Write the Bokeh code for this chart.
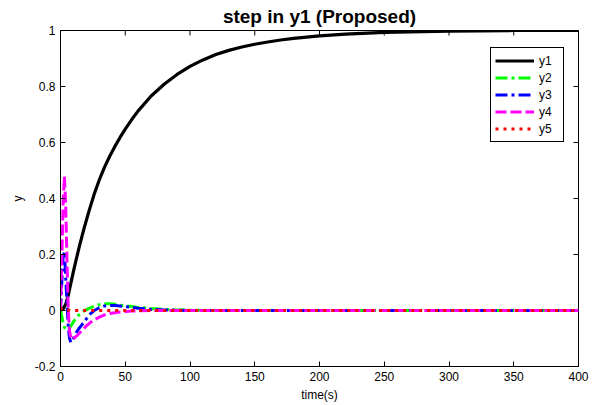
from bokeh.plotting import figure
from bokeh.models import FixedTicker, Legend, LegendItem, Range1d
from bokeh.embed import file_html
from bokeh.resources import INLINE

# ---- data ----
t1 = [0, 2, 4, 6, 8, 10, 12, 15, 18, 22, 26, 30, 34, 38, 42, 46, 50, 55, 60, 70,
      80, 90, 100, 110, 120, 130, 140, 150, 160, 170, 180, 200, 220, 250, 280, 300, 350, 400]
y1 = [0, 0.005, 0.022, 0.055, 0.098, 0.14, 0.18, 0.237, 0.29, 0.355, 0.415, 0.467, 0.512,
      0.551, 0.586, 0.618, 0.648, 0.682, 0.713, 0.766, 0.808, 0.843, 0.872, 0.895, 0.914,
      0.929, 0.941, 0.951, 0.959, 0.966, 0.972, 0.981, 0.987, 0.993, 0.996, 0.998, 1.0, 1.0]

t_tr = [0, 1, 2, 3, 4, 5, 6, 7, 8, 9, 10, 12, 14, 16, 18, 20, 23, 26, 30, 34, 38, 42, 46, 50,
        55, 60, 70, 80, 90, 100, 120, 150, 200, 250, 300, 350, 400]
y2 = [0, -0.02, -0.045, -0.06, -0.068, -0.07, -0.068, -0.062, -0.055, -0.048, -0.04,
      -0.028, -0.017, -0.008, -0.002, 0.003,
      0.009, 0.015, 0.021, 0.024, 0.024, 0.022, 0.019, 0.017,
      0.014, 0.011, 0.007, 0.004, 0.002, 0.001,
      0, 0, 0, 0, 0, 0, 0]
y3 = [0, 0.1, 0.19, 0.21, 0.12, 0.03, -0.06, -0.1, -0.114, -0.11, -0.1,
      -0.08, -0.066, -0.054, -0.043, -0.03,
      -0.012, 0.0, 0.01, 0.016, 0.018, 0.018, 0.016, 0.014,
      0.011, 0.008, 0.004, 0.002, 0.001, 0,
      0, 0, 0, 0, 0, 0, 0]
y4 = [0, 0.18, 0.38, 0.48, 0.38, 0.18, 0.0, -0.075, -0.098, -0.104, -0.1,
      -0.093, -0.084, -0.074, -0.064, -0.055,
      -0.043, -0.033, -0.024, -0.016, -0.011, -0.008, -0.005, -0.004,
      -0.002, -0.001, 0, 0, 0, 0,
      0, 0, 0, 0, 0, 0, 0]
y5 = [0, 0.006, 0.008, 0.007, 0.005, 0.003, 0.002, 0.001, 0, 0, 0,
      0, 0, 0, 0, 0,
      0, 0, 0, 0, 0, 0, 0, 0,
      0, 0, 0, 0, 0, 0,
      0, 0, 0, 0, 0, 0, 0]

series_names = ["y1", "y2", "y3", "y4", "y5"]
xticks = [0, 50, 100, 150, 200, 250, 300, 350, 400]
xtick_labels = ["0", "50", "100", "150", "200", "250", "300", "350", "400"]
yticks = [-0.2, 0, 0.2, 0.4, 0.6, 0.8, 1.0]
ytick_labels = ["-0.2", "0", "0.2", "0.4", "0.6", "0.8", "1"]

FONT = "Liberation Sans"

p = figure(frame_width=518, frame_height=336,
           x_range=Range1d(xticks[0], xticks[-1]), y_range=Range1d(yticks[0], yticks[-1]),
           output_backend="svg", toolbar_location=None,
           min_border_left=60, min_border_right=20,
           min_border_top=28, min_border_bottom=41,
           title="step in y1 (Proposed)")

p.title.text_font = FONT
p.title.text_font_size = "19px"
p.title.text_font_style = "bold"
p.title.text_color = "black"
p.title.align = "center"
p.title.standoff = 7
p.title.offset = -3
p.title.text_line_height = 1.0

p.background_fill_color = "white"
p.border_fill_color = "white"
p.outline_line_color = "black"
p.outline_line_width = 1
p.xgrid.grid_line_color = None
p.ygrid.grid_line_color = None

def style_axis(ax, ticks, labels):
    ax.ticker = FixedTicker(ticks=ticks)
    ax.major_label_overrides = {t: l for t, l in zip(ticks, labels)}
    ax.axis_line_color = "black"
    ax.major_tick_line_color = "black"
    ax.major_tick_in = 5
    ax.major_tick_out = 0
    ax.minor_tick_line_color = None
    ax.major_label_text_font = FONT
    ax.major_label_text_color = "black"
    ax.major_label_text_font_size = "12px"
    ax.major_label_standoff = 5
    ax.axis_label_text_font = FONT
    ax.axis_label_text_font_size = "12px"
    ax.axis_label_text_font_style = "normal"
    ax.axis_label_text_color = "black"

style_axis(p.xaxis[0], xticks, xtick_labels)
style_axis(p.yaxis[0], yticks, ytick_labels)
p.xaxis.axis_label = "time(s)"
p.yaxis.axis_label = "y"
p.xaxis.axis_label_standoff = 4
p.yaxis.axis_label_standoff = 7

# inward ticks on the top and right sides of the box
p.ray(x=xticks, y=[yticks[-1]] * len(xticks), length=5, length_units="screen",
      angle=-90, angle_units="deg", line_color="black", line_width=1)
p.ray(x=[xticks[-1]] * len(yticks), y=yticks, length=5, length_units="screen",
      angle=180, angle_units="deg", line_color="black", line_width=1)

r1 = p.line(t1, y1, line_color="black", line_width=3.2)
r2 = p.line(t_tr, y2, line_color="#00ff00", line_width=3, line_dash="12 4 3 4")
r3 = p.line(t_tr, y3, line_color="#0000ff", line_width=3, line_dash="12 4 3 4")
r4 = p.line(t_tr, y4, line_color="#ff00ff", line_width=3, line_dash="11 4")
r5 = p.line(t_tr, y5, line_color="#ff0000", line_width=3, line_dash="3 5")

legend = Legend(items=[LegendItem(label=n, renderers=[r])
                       for n, r in zip(series_names, [r1, r2, r3, r4, r5])],
                location=(430, 224))
legend.border_line_color = "black"
legend.border_line_width = 1
legend.border_line_alpha = 1
legend.background_fill_color = "white"
legend.background_fill_alpha = 1
legend.label_text_font = FONT
legend.label_text_font_size = "12px"
legend.label_text_color = "black"
legend.glyph_width = 39
legend.glyph_height = 17
legend.label_height = 17
legend.label_width = 20
legend.spacing = 0
legend.padding = 4
legend.margin = 0
legend.label_standoff = 5
p.add_layout(legend, "center")

open("out.html", "w").write(file_html(p, INLINE))
